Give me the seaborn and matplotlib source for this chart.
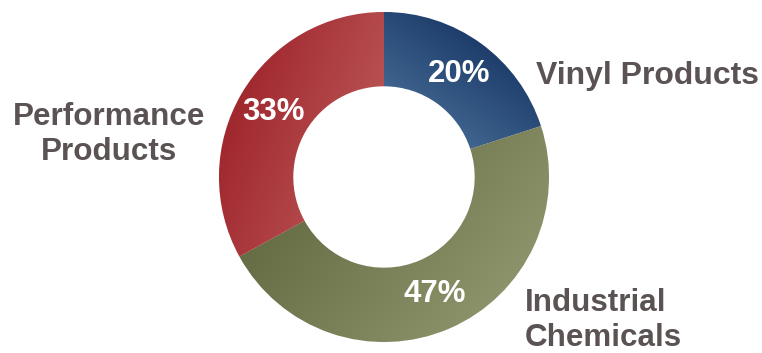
import numpy as np
import matplotlib
matplotlib.use("Agg")
import matplotlib.pyplot as plt
import seaborn as sns
from matplotlib.colors import LinearSegmentedColormap

# ---- data ----
categories = ["Vinyl Products", "Industrial Chemicals", "Performance Products"]
shares = [20, 47, 33]
label_lines = [["Vinyl Products"], ["Industrial", "Chemicals"], ["Performance", "Products"]]

# ---- style ----
sns.set_theme(style="white")
plt.rcParams['font.family'] = ['Liberation Sans', 'DejaVu Sans']

dark_colors = ["#1e3d6b", "#666c44", "#a0282e"]
light_colors = ["#40658f", "#8c936b", "#b85052"]
grad_dirs = [(-0.7, -1.0), (1.0, -0.8), (1.0, -0.35)]  # dark -> light direction
text_color = "#5b5353"

W, H = 762, 353
R = 165.0
cx, cy = 384.0, 176.0
ring_w = 0.45

fig = plt.figure(figsize=(W / 100, H / 100), dpi=100)
ax = fig.add_axes([0, 0, 1, 1])

mid_colors = [sns.blend_palette([d, l], 3)[1] for d, l in zip(dark_colors, light_colors)]

wedges, _, autotexts = ax.pie(
    shares, startangle=90, counterclock=False, radius=1.0,
    colors=mid_colors,
    autopct=lambda p: f"{p:.0f}%", pctdistance=0.775,
    wedgeprops=dict(width=ring_w, edgecolor="white", linewidth=0.6),
    textprops=dict(color="white", fontsize=22.5, fontweight="bold"),
)

# gradient fills clipped to each wedge, normalised over the wedge's own area
n = 400
xs = np.linspace(-1, 1, n)
X, Y = np.meshgrid(xs, xs)
Rr = np.hypot(X, Y)
Ang = np.degrees(np.arctan2(Y, X)) % 360
for w, d, l, v in zip(wedges, dark_colors, light_colors, grad_dirs):
    v = np.array(v) / np.hypot(*v)
    t = X * v[0] + Y * v[1]
    t1, t2 = w.theta1 % 360, w.theta2 % 360
    if t1 <= t2:
        inang = (Ang >= t1) & (Ang <= t2)
    else:
        inang = (Ang >= t1) | (Ang <= t2)
    mask = inang & (Rr <= 1) & (Rr >= 1 - ring_w)
    lo, hi = t[mask].min(), t[mask].max()
    t = np.clip((t - lo) / (hi - lo), 0, 1)
    cmap = LinearSegmentedColormap.from_list("g", [d, l])
    im = ax.imshow(t, cmap=cmap, extent=(-1, 1, -1, 1), origin="lower",
                   interpolation="bilinear", zorder=w.get_zorder() + 0.1)
    im.set_clip_path(w)
for t in autotexts:
    t.set_zorder(5)

# outer labels: (x pixel, list of baseline pixels, alignment, font size)
label_layout = [(536, [84], "left", 23.0),
                (525, [311, 346], "left", 22.6),
                (109, [125, 160], "center", 22.6)]
for lines, (px, baselines, ha, fs) in zip(label_lines, label_layout):
    for line, py in zip(lines, baselines):
        ax.text((px - cx) / R, ((H - py) - cy) / R, line, ha=ha, va="baseline",
                fontsize=fs, fontweight="bold", color=text_color, zorder=5)

ax.set_xlim(-cx / R, (W - cx) / R)
ax.set_ylim(-cy / R, (H - cy) / R)
ax.set_aspect("equal", adjustable="datalim")
ax.axis("off")

fig.savefig("out.png", dpi=100, facecolor="white")
